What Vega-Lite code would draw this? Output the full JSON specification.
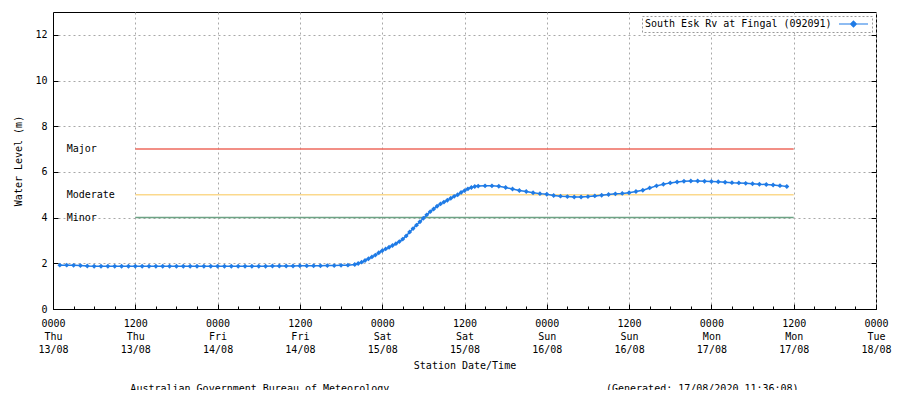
{
  "$schema": "https://vega.github.io/schema/vega-lite/v6.json",
  "width": 823,
  "height": 297,
  "autosize": {"type": "none"},
  "padding": {"left": 53, "top": 12, "right": 23, "bottom": 81},
  "background": "white",
  "title": {
    "text": "Australian Government Bureau of Meteorology\u00a0\u00a0\u00a0\u00a0\u00a0\u00a0\u00a0\u00a0\u00a0\u00a0\u00a0\u00a0\u00a0\u00a0\u00a0\u00a0\u00a0\u00a0\u00a0\u00a0\u00a0\u00a0\u00a0\u00a0\u00a0\u00a0\u00a0\u00a0\u00a0\u00a0\u00a0\u00a0\u00a0\u00a0\u00a0\u00a0(Generated: 17/08/2020 11:36:08)",
    "orient": "bottom",
    "anchor": "middle",
    "offset": 14,
    "font": "DejaVu Sans Mono",
    "fontSize": 10,
    "fontWeight": "normal",
    "color": "#000"
  },
  "datasets": {
    "flood": [
      {"level": "Major", "value": 7, "start": "2020-08-13T12:00", "end": "2020-08-17T12:00", "labelT": "2020-08-13T02:00"},
      {"level": "Moderate", "value": 5, "start": "2020-08-13T12:00", "end": "2020-08-17T12:00", "labelT": "2020-08-13T02:00"},
      {"level": "Minor", "value": 4, "start": "2020-08-13T12:00", "end": "2020-08-17T12:00", "labelT": "2020-08-13T02:00"}
    ],
    "gauge": [
      {"t": "2020-08-13T01:00", "level": 1.92},
      {"t": "2020-08-13T02:00", "level": 1.92},
      {"t": "2020-08-13T03:00", "level": 1.91},
      {"t": "2020-08-13T04:00", "level": 1.90},
      {"t": "2020-08-13T05:00", "level": 1.88},
      {"t": "2020-08-13T06:00", "level": 1.87},
      {"t": "2020-08-13T07:00", "level": 1.87},
      {"t": "2020-08-13T08:00", "level": 1.87},
      {"t": "2020-08-13T09:00", "level": 1.87},
      {"t": "2020-08-13T10:00", "level": 1.87},
      {"t": "2020-08-13T11:00", "level": 1.87},
      {"t": "2020-08-13T12:00", "level": 1.87},
      {"t": "2020-08-13T13:00", "level": 1.87},
      {"t": "2020-08-13T14:00", "level": 1.87},
      {"t": "2020-08-13T15:00", "level": 1.87},
      {"t": "2020-08-13T16:00", "level": 1.87},
      {"t": "2020-08-13T17:00", "level": 1.87},
      {"t": "2020-08-13T18:00", "level": 1.87},
      {"t": "2020-08-13T19:00", "level": 1.87},
      {"t": "2020-08-13T20:00", "level": 1.87},
      {"t": "2020-08-13T21:00", "level": 1.87},
      {"t": "2020-08-13T22:00", "level": 1.87},
      {"t": "2020-08-13T23:00", "level": 1.87},
      {"t": "2020-08-14T00:00", "level": 1.87},
      {"t": "2020-08-14T01:00", "level": 1.87},
      {"t": "2020-08-14T02:00", "level": 1.87},
      {"t": "2020-08-14T03:00", "level": 1.87},
      {"t": "2020-08-14T04:00", "level": 1.87},
      {"t": "2020-08-14T05:00", "level": 1.87},
      {"t": "2020-08-14T06:00", "level": 1.87},
      {"t": "2020-08-14T07:00", "level": 1.87},
      {"t": "2020-08-14T08:00", "level": 1.88},
      {"t": "2020-08-14T09:00", "level": 1.88},
      {"t": "2020-08-14T10:00", "level": 1.88},
      {"t": "2020-08-14T11:00", "level": 1.88},
      {"t": "2020-08-14T12:00", "level": 1.89},
      {"t": "2020-08-14T13:00", "level": 1.89},
      {"t": "2020-08-14T14:00", "level": 1.89},
      {"t": "2020-08-14T15:00", "level": 1.89},
      {"t": "2020-08-14T16:00", "level": 1.90},
      {"t": "2020-08-14T17:00", "level": 1.90},
      {"t": "2020-08-14T18:00", "level": 1.91},
      {"t": "2020-08-14T19:00", "level": 1.92},
      {"t": "2020-08-14T20:00", "level": 1.95},
      {"t": "2020-08-14T20:30", "level": 1.99},
      {"t": "2020-08-14T21:00", "level": 2.05},
      {"t": "2020-08-14T21:30", "level": 2.12},
      {"t": "2020-08-14T22:00", "level": 2.20},
      {"t": "2020-08-14T22:30", "level": 2.28},
      {"t": "2020-08-14T23:00", "level": 2.36},
      {"t": "2020-08-14T23:30", "level": 2.46},
      {"t": "2020-08-15T00:00", "level": 2.55},
      {"t": "2020-08-15T00:30", "level": 2.63},
      {"t": "2020-08-15T01:00", "level": 2.70},
      {"t": "2020-08-15T01:30", "level": 2.78},
      {"t": "2020-08-15T02:00", "level": 2.86},
      {"t": "2020-08-15T02:30", "level": 2.95},
      {"t": "2020-08-15T03:00", "level": 3.06},
      {"t": "2020-08-15T03:30", "level": 3.20},
      {"t": "2020-08-15T04:00", "level": 3.37},
      {"t": "2020-08-15T04:30", "level": 3.52},
      {"t": "2020-08-15T05:00", "level": 3.67},
      {"t": "2020-08-15T05:30", "level": 3.82},
      {"t": "2020-08-15T06:00", "level": 3.97},
      {"t": "2020-08-15T06:30", "level": 4.12},
      {"t": "2020-08-15T07:00", "level": 4.26},
      {"t": "2020-08-15T07:30", "level": 4.38},
      {"t": "2020-08-15T08:00", "level": 4.50},
      {"t": "2020-08-15T08:30", "level": 4.60},
      {"t": "2020-08-15T09:00", "level": 4.68},
      {"t": "2020-08-15T09:30", "level": 4.76},
      {"t": "2020-08-15T10:00", "level": 4.85},
      {"t": "2020-08-15T10:30", "level": 4.93},
      {"t": "2020-08-15T11:00", "level": 5.00},
      {"t": "2020-08-15T11:30", "level": 5.10},
      {"t": "2020-08-15T12:00", "level": 5.18},
      {"t": "2020-08-15T12:30", "level": 5.26},
      {"t": "2020-08-15T13:00", "level": 5.32},
      {"t": "2020-08-15T13:30", "level": 5.36},
      {"t": "2020-08-15T14:00", "level": 5.38},
      {"t": "2020-08-15T15:00", "level": 5.39},
      {"t": "2020-08-15T16:00", "level": 5.39},
      {"t": "2020-08-15T17:00", "level": 5.37},
      {"t": "2020-08-15T18:00", "level": 5.32},
      {"t": "2020-08-15T19:00", "level": 5.25},
      {"t": "2020-08-15T20:00", "level": 5.19},
      {"t": "2020-08-15T21:00", "level": 5.14},
      {"t": "2020-08-15T22:00", "level": 5.09},
      {"t": "2020-08-15T23:00", "level": 5.05},
      {"t": "2020-08-16T00:00", "level": 5.02},
      {"t": "2020-08-16T01:00", "level": 4.97},
      {"t": "2020-08-16T02:00", "level": 4.94},
      {"t": "2020-08-16T03:00", "level": 4.92},
      {"t": "2020-08-16T04:00", "level": 4.90},
      {"t": "2020-08-16T05:00", "level": 4.90},
      {"t": "2020-08-16T06:00", "level": 4.92},
      {"t": "2020-08-16T07:00", "level": 4.95},
      {"t": "2020-08-16T08:00", "level": 4.98},
      {"t": "2020-08-16T09:00", "level": 5.01},
      {"t": "2020-08-16T10:00", "level": 5.04},
      {"t": "2020-08-16T11:00", "level": 5.06},
      {"t": "2020-08-16T12:00", "level": 5.09},
      {"t": "2020-08-16T13:00", "level": 5.14},
      {"t": "2020-08-16T14:00", "level": 5.20},
      {"t": "2020-08-16T15:00", "level": 5.30},
      {"t": "2020-08-16T16:00", "level": 5.39},
      {"t": "2020-08-16T17:00", "level": 5.46},
      {"t": "2020-08-16T18:00", "level": 5.52},
      {"t": "2020-08-16T19:00", "level": 5.56},
      {"t": "2020-08-16T20:00", "level": 5.59},
      {"t": "2020-08-16T21:00", "level": 5.60},
      {"t": "2020-08-16T22:00", "level": 5.60},
      {"t": "2020-08-16T23:00", "level": 5.59},
      {"t": "2020-08-17T00:00", "level": 5.58},
      {"t": "2020-08-17T01:00", "level": 5.57},
      {"t": "2020-08-17T02:00", "level": 5.55},
      {"t": "2020-08-17T03:00", "level": 5.53},
      {"t": "2020-08-17T04:00", "level": 5.52},
      {"t": "2020-08-17T05:00", "level": 5.50},
      {"t": "2020-08-17T06:00", "level": 5.48},
      {"t": "2020-08-17T07:00", "level": 5.46},
      {"t": "2020-08-17T08:00", "level": 5.45},
      {"t": "2020-08-17T09:00", "level": 5.43},
      {"t": "2020-08-17T10:00", "level": 5.40},
      {"t": "2020-08-17T11:00", "level": 5.36}
    ]
  },
  "resolve": {"axis": {"x": "independent", "y": "independent"}},
  "layer": [
    {
      "data": {"name": "flood"},
      "mark": {"type": "rule", "strokeWidth": 1.5},
      "encoding": {
        "x": {
          "field": "start", "type": "temporal",
          "scale": {"domain": [{"year": 2020, "month": 8, "date": 13, "hours": 0}, {"year": 2020, "month": 8, "date": 18, "hours": 0}]},
          "axis": {"orient": "top", "offset": -297, "tickCount": 40, "tickSize": 3, "labels": false, "grid": false, "domain": false, "title": null}
        },
        "x2": {"field": "end"},
        "y": {
          "field": "value", "type": "quantitative",
          "scale": {"domain": [0, 13], "nice": false},
          "axis": {"orient": "left", "offset": -823, "values": [0, 2, 4, 6, 8, 10, 12], "tickSize": 5, "labels": false, "grid": false, "domain": false, "title": null}
        },
        "stroke": {
          "field": "level", "type": "nominal",
          "scale": {"domain": ["Major", "Moderate", "Minor"], "range": ["#ee6a5e", "#fbd98d", "#6da385"]},
          "legend": null
        }
      }
    },
    {
      "data": {"name": "flood"},
      "mark": {"type": "text", "align": "left", "baseline": "middle", "font": "DejaVu Sans Mono", "fontSize": 10, "color": "#000"},
      "encoding": {
        "x": {
          "field": "labelT", "type": "temporal",
          "axis": {
            "orient": "top", "offset": -297, "tickSize": 5, "labels": false, "grid": false, "domain": false, "title": null,
            "values": [
              {"year": 2020, "month": 8, "date": 13, "hours": 12},
              {"year": 2020, "month": 8, "date": 14, "hours": 0},
              {"year": 2020, "month": 8, "date": 14, "hours": 12},
              {"year": 2020, "month": 8, "date": 15, "hours": 0},
              {"year": 2020, "month": 8, "date": 15, "hours": 12},
              {"year": 2020, "month": 8, "date": 16, "hours": 0},
              {"year": 2020, "month": 8, "date": 16, "hours": 12},
              {"year": 2020, "month": 8, "date": 17, "hours": 0},
              {"year": 2020, "month": 8, "date": 17, "hours": 12}
            ]
          }
        },
        "y": {
          "field": "value", "type": "quantitative",
          "axis": {"orient": "right", "offset": -823, "values": [0, 2, 4, 6, 8, 10, 12], "tickSize": 5, "labels": false, "grid": false, "domain": false, "title": null}
        },
        "text": {"field": "level"}
      }
    },
    {
      "data": {"name": "gauge"},
      "mark": {"type": "line", "strokeWidth": 1.5, "point": {"shape": "diamond", "filled": true, "size": 24}},
      "encoding": {
        "x": {
          "field": "t", "type": "temporal",
          "axis": {
            "orient": "bottom",
            "values": [
              {"year": 2020, "month": 8, "date": 13, "hours": 0},
              {"year": 2020, "month": 8, "date": 13, "hours": 12},
              {"year": 2020, "month": 8, "date": 14, "hours": 0},
              {"year": 2020, "month": 8, "date": 14, "hours": 12},
              {"year": 2020, "month": 8, "date": 15, "hours": 0},
              {"year": 2020, "month": 8, "date": 15, "hours": 12},
              {"year": 2020, "month": 8, "date": 16, "hours": 0},
              {"year": 2020, "month": 8, "date": 16, "hours": 12},
              {"year": 2020, "month": 8, "date": 17, "hours": 0},
              {"year": 2020, "month": 8, "date": 17, "hours": 12},
              {"year": 2020, "month": 8, "date": 18, "hours": 0}
            ],
            "labelExpr": "[timeFormat(datum.value, '%H%M'), timeFormat(datum.value, '%a'), timeFormat(datum.value, '%d/%m')]",
            "labelLineHeight": 13,
            "labelPadding": 5,
            "labelFlush": false,
            "labelOverlap": false,
            "tickSize": 4,
            "tickOpacity": 0,
            "title": "Station Date/Time",
            "titlePadding": 6,
            "grid": true
          }
        },
        "y": {
          "field": "level", "type": "quantitative",
          "axis": {
            "orient": "left",
            "values": [0, 2, 4, 6, 8, 10, 12],
            "tickSize": 4,
            "tickOpacity": 0,
            "labelPadding": 2,
            "title": "Water Level (m)",
            "titlePadding": 11,
            "grid": true
          }
        },
        "color": {
          "datum": "South Esk Rv at Fingal (092091)", "type": "nominal",
          "scale": {"range": ["#1f7be6"]},
          "legend": {
            "orient": "top-right",
            "offset": 4,
            "title": "South Esk Rv at Fingal (092091)",
            "titleOrient": "left",
            "titleFont": "DejaVu Sans Mono",
            "titleFontSize": 10,
            "titleFontWeight": "normal",
            "titleColor": "#000",
            "titlePadding": 6,
            "titleLimit": 0,
            "labelExpr": "''",
            "labelOffset": 0,
            "symbolType": "M-1,0H1M0,-0.2L0.2,0L0,0.2L-0.2,0Z",
            "symbolSize": 841,
            "symbolStrokeWidth": 1.2,
            "clipHeight": 10,
            "padding": 3,
            "strokeColor": "#999",
            "fillColor": "white",
            "encode": {
              "legend": {"update": {"strokeDash": {"value": [2, 2]}}},
              "symbols": {"update": {"fill": {"value": "#1f7be6"}}}
            }
          }
        }
      }
    }
  ],
  "config": {
    "font": "DejaVu Sans Mono",
    "view": {"stroke": "#000", "strokeWidth": 1},
    "axis": {
      "labelFont": "DejaVu Sans Mono",
      "labelFontSize": 10,
      "labelColor": "#000",
      "titleFont": "DejaVu Sans Mono",
      "titleFontSize": 10,
      "titleFontWeight": "normal",
      "titleColor": "#000",
      "tickColor": "#000",
      "domainColor": "#000",
      "gridColor": "#a8a8a8",
      "gridDash": [2, 3],
      "gridWidth": 1
    }
  }
}
